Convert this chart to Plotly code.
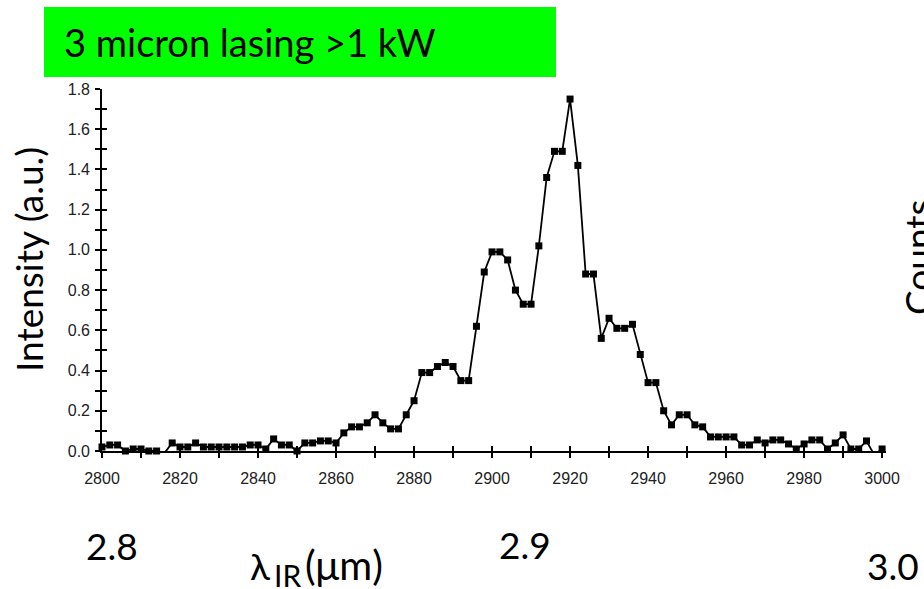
import plotly.graph_objects as go

# Wavelength in nm (reading ~2 nm step)
wavelength_nm = list(range(2800, 3001, 2))
intensity = [
    0.02, 0.03, 0.03, 0.00, 0.01, 0.01, 0.00, 0.00, -0.01, 0.04,
    0.02, 0.02, 0.04, 0.02, 0.02, 0.02, 0.02, 0.02, 0.02, 0.03,
    0.03, 0.01, 0.06, 0.03, 0.03, 0.00, 0.04, 0.04, 0.05, 0.05,
    0.04, 0.09, 0.12, 0.12, 0.14, 0.18, 0.14, 0.11, 0.11, 0.18,
    0.25, 0.39, 0.39, 0.42, 0.44, 0.42, 0.35, 0.35, 0.62, 0.89,
    0.99, 0.99, 0.95, 0.80, 0.73, 0.73, 1.02, 1.36, 1.49, 1.49,
    1.75, 1.42, 0.88, 0.88, 0.56, 0.66, 0.61, 0.61, 0.63, 0.48,
    0.34, 0.34, 0.20, 0.13, 0.18, 0.18, 0.13, 0.12, 0.07, 0.07,
    0.07, 0.07, 0.03, 0.03, 0.055, 0.04, 0.055, 0.055, 0.035, 0.01,
    0.035, 0.055, 0.055, 0.01, 0.04, 0.08, 0.01, 0.01, 0.05, -0.02,
    0.01,
]
big_labels = ["2.8", "2.9", "3.0"]

W, H = 924, 589
ML, MR, MT, MB = 102, 38, 89, 138
PW, PH = W - ML - MR, H - MT - MB


def xp(px):
    return (px - ML) / PW


def yp(py):
    return (H - MB - py) / PH


fig = go.Figure()
fig.add_trace(go.Scatter(
    x=wavelength_nm, y=intensity, mode="lines+markers",
    line=dict(color="black", width=1.8),
    marker=dict(symbol="square", size=7, color="black"),
    cliponaxis=False, showlegend=False, hoverinfo="skip",
))
# invisible trace to carry the overlay axes (inner tick halves)
fig.add_trace(go.Scatter(
    x=wavelength_nm, y=intensity, mode="markers", xaxis="x2", yaxis="y2",
    marker=dict(opacity=0), showlegend=False, hoverinfo="skip",
))

tickfont = dict(family="Liberation Sans", size=16, color="#222")
fig.update_layout(
    width=W, height=H,
    margin=dict(l=ML, r=MR, t=MT, b=MB, pad=0),
    paper_bgcolor="white", plot_bgcolor="white",
    xaxis=dict(
        range=[2800, 3001], showgrid=False, zeroline=False,
        showline=True, linecolor="black", linewidth=1.6,
        tickmode="linear", tick0=2800, dtick=20,
        ticks="outside", ticklen=5, tickwidth=1.5, tickcolor="black",
        minor=dict(dtick=10, ticks="outside", ticklen=5, tickwidth=1.5, tickcolor="black"),
        tickfont=tickfont, ticklabelstandoff=7,
    ),
    yaxis=dict(
        range=[0, 1.8], showgrid=False, zeroline=False,
        showline=True, linecolor="black", linewidth=1.6,
        tickmode="linear", tick0=0, dtick=0.2, tickformat=".1f",
        ticks="outside", ticklen=5, tickwidth=1.5, tickcolor="black",
        minor=dict(dtick=0.1, ticks="outside", ticklen=5, tickwidth=1.5, tickcolor="black"),
        tickfont=tickfont, ticklabelstandoff=2,
    ),
    xaxis2=dict(
        overlaying="x", anchor="y2", range=[2800, 3001], showgrid=False, zeroline=False,
        showline=False, tickmode="linear", tick0=2800, dtick=10,
        ticks="inside", ticklen=5, tickwidth=1.5, tickcolor="black", showticklabels=False,
    ),
    yaxis2=dict(
        overlaying="y", anchor="x2", range=[0, 1.8], showgrid=False, zeroline=False,
        showline=False, tickmode="linear", tick0=0, dtick=0.1,
        ticks="inside", ticklen=5, tickwidth=1.5, tickcolor="black", showticklabels=False,
    ),
)

FS = 37
big = dict(family="Lato", size=FS, color="black")
fig.add_shape(type="rect", xref="paper", yref="paper",
              x0=xp(44), x1=xp(556), y0=yp(77), y1=yp(7),
              fillcolor="#00ff00", line=dict(width=0), layer="above")
anns = [
    dict(text="3 micron lasing >1 kW", x=xp(63), y=yp(42), xanchor="left",
         font=dict(family="Lato", size=38, color="black")),
    dict(text="Intensity (a.u.)", x=xp(28), y=yp(260), textangle=-90, font=big),
    dict(text="Counts", x=xp(917), y=yp(257), textangle=-90, font=big),
    dict(text=big_labels[0], x=xp(112), y=yp(545), font=big),
    dict(text=big_labels[1], x=xp(525), y=yp(544), font=big),
    dict(text=big_labels[2], x=xp(893), y=yp(565), font=big),
    dict(text="λ", x=xp(260), y=yp(565), font=big),
    dict(text="IR", x=xp(273), y=yp(575), xanchor="left",
         font=dict(family="Lato", size=30, color="black")),
    dict(text="(μm)", x=xp(304), y=yp(565), xanchor="left",
         font=dict(family="Lato", size=40, color="black")),
]
for a in anns:
    a.setdefault("xanchor", "center")
    a.setdefault("yanchor", "middle")
    fig.add_annotation(xref="paper", yref="paper", showarrow=False, borderpad=0, **a)

fig.write_html("out.html")
